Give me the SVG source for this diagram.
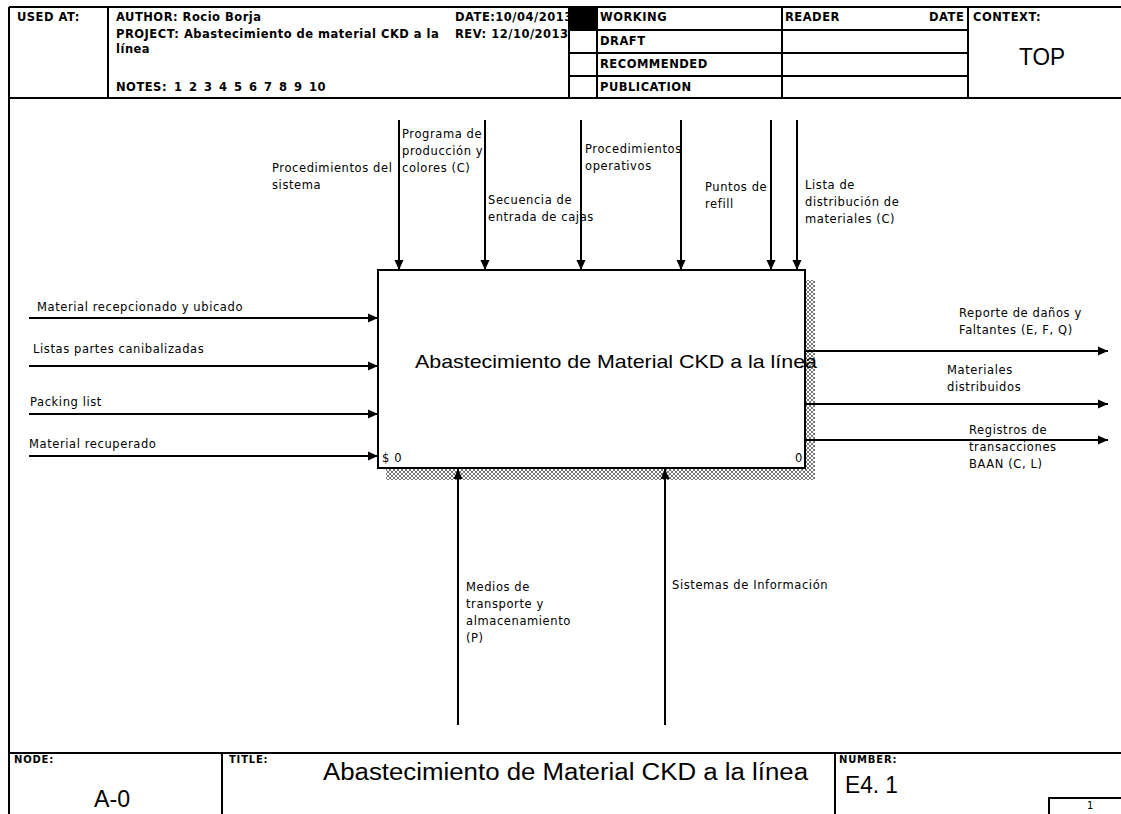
<svg xmlns="http://www.w3.org/2000/svg" width="1121" height="814" viewBox="0 0 1121 814">
  <style>
    .frame { stroke: #000; stroke-width: 2; fill: none; }
    .hdr { font-family: "DejaVu Sans", "Liberation Sans", sans-serif; font-size: 11.5px; font-weight: bold; fill: #000; letter-spacing: 0.5px; }
    .lbl { font-family: "DejaVu Sans", "Liberation Sans", sans-serif; font-size: 11.5px; fill: #000; letter-spacing: 0.6px; }
    .tiny { font-family: "DejaVu Sans", "Liberation Sans", sans-serif; font-size: 10px; font-weight: bold; fill: #000; letter-spacing: 0.8px; }
    .page { font-family: "DejaVu Sans", "Liberation Sans", sans-serif; font-size: 10px; fill: #000; }
    .big { font-family: "Liberation Sans", Arial, sans-serif; fill: #000; }
    .arrow { stroke: #000; stroke-width: 2; fill: none; marker-end: url(#head); }
  </style>
  <defs>
    <marker id="head" markerUnits="userSpaceOnUse" viewBox="0 0 10 10" refX="10" refY="5" markerWidth="10" markerHeight="10" orient="auto">
      <path d="M0,0.5 L10,5 L0,9.5 Z" fill="#000"/>
    </marker>
    <pattern id="hatch" width="4" height="4" patternUnits="userSpaceOnUse">
      <rect width="4" height="4" fill="#fff"/>
      <path d="M0,0 L4,4 M4,0 L0,4" stroke="#555" stroke-width="0.8"/>
    </pattern>
    <clipPath id="author-cell">
      <rect x="108" y="7" width="461" height="91"/>
    </clipPath>
  </defs>

  <rect width="1121" height="814" fill="#fff"/>

  <!-- sheet frame and header block -->
  <g id="header">
    <g clip-path="url(#author-cell)">
      <text class="hdr" x="116" y="21">AUTHOR:  Rocio Borja</text>
      <text class="hdr" x="116" y="38">PROJECT:  Abastecimiento de material CKD a la</text>
      <text class="hdr" x="116" y="53">línea</text>
      <text class="hdr" y="91"><tspan x="116">NOTES:</tspan><tspan x="174">1</tspan><tspan x="189">2</tspan><tspan x="204">3</tspan><tspan x="219">4</tspan><tspan x="234">5</tspan><tspan x="249">6</tspan><tspan x="264">7</tspan><tspan x="279">8</tspan><tspan x="294">9</tspan><tspan x="309">10</tspan></text>
      <text class="hdr" x="455" y="21">DATE:10/04/2013</text>
      <text class="hdr" x="455" y="38">REV:  12/10/2013</text>
    </g>
    <line class="frame" x1="9" y1="7" x2="1121" y2="7"/>
    <line class="frame" x1="9" y1="7" x2="9" y2="814"/>
    <line class="frame" x1="9" y1="98" x2="1121" y2="98"/>
    <line class="frame" x1="108" y1="7" x2="108" y2="98"/>
    <line class="frame" x1="569" y1="7" x2="569" y2="98"/>
    <line class="frame" x1="597" y1="7" x2="597" y2="98"/>
    <line class="frame" x1="782" y1="7" x2="782" y2="98"/>
    <line class="frame" x1="968" y1="7" x2="968" y2="98"/>
    <line class="frame" x1="569" y1="30" x2="968" y2="30"/>
    <line class="frame" x1="569" y1="53" x2="968" y2="53"/>
    <line class="frame" x1="569" y1="76" x2="968" y2="76"/>
    <rect x="569" y="7" width="28" height="23" fill="#000"/>

    <text class="hdr" x="17" y="21">USED AT:</text>
    <text class="hdr" x="600" y="21">WORKING</text>
    <text class="hdr" x="600" y="45">DRAFT</text>
    <text class="hdr" x="600" y="68">RECOMMENDED</text>
    <text class="hdr" x="600" y="91">PUBLICATION</text>
    <text class="hdr" x="785" y="21">READER</text>
    <text class="hdr" x="929" y="21">DATE</text>
    <text class="hdr" x="973" y="21">CONTEXT:</text>
    <text class="big" x="1019" y="65" font-size="24" textLength="46" lengthAdjust="spacingAndGlyphs">TOP</text>
  </g>

  <!-- activity box A0 -->
  <g id="box-a0">
    <rect x="386" y="468" width="429" height="12" fill="url(#hatch)"/>
    <rect x="805" y="280" width="10" height="200" fill="url(#hatch)"/>
    <rect x="378" y="270" width="427" height="198" fill="#fff" stroke="#000" stroke-width="2"/>
    <text class="big" x="415" y="368" font-size="19" textLength="402" lengthAdjust="spacingAndGlyphs">Abastecimiento de Material CKD a la línea</text>
    <text class="lbl" x="382" y="462">$ 0</text>
    <text class="lbl" x="795" y="462">0</text>
  </g>

  <!-- ICOM arrows -->
  <g id="connectors">
    <!-- controls -->
    <line class="arrow" x1="399" y1="120" x2="399" y2="270"/>
    <line class="arrow" x1="485" y1="120" x2="485" y2="270"/>
    <line class="arrow" x1="581" y1="120" x2="581" y2="270"/>
    <line class="arrow" x1="681" y1="120" x2="681" y2="270"/>
    <line class="arrow" x1="771" y1="120" x2="771" y2="270"/>
    <line class="arrow" x1="797" y1="120" x2="797" y2="270"/>
    <!-- inputs -->
    <line class="arrow" x1="29" y1="318" x2="378" y2="318"/>
    <line class="arrow" x1="29" y1="366" x2="378" y2="366"/>
    <line class="arrow" x1="29" y1="414" x2="378" y2="414"/>
    <line class="arrow" x1="29" y1="456" x2="378" y2="456"/>
    <!-- outputs -->
    <line class="arrow" x1="806" y1="351" x2="1108" y2="351"/>
    <line class="arrow" x1="806" y1="404" x2="1108" y2="404"/>
    <line class="arrow" x1="806" y1="440" x2="1108" y2="440"/>
    <!-- mechanisms -->
    <line class="arrow" x1="458" y1="725" x2="458" y2="469"/>
    <line class="arrow" x1="665" y1="725" x2="665" y2="469"/>
  </g>

  <!-- arrow labels -->
  <g id="labels">
    <text class="lbl" x="272" y="172">Procedimientos del</text>
    <text class="lbl" x="272" y="189">sistema</text>
    <text class="lbl" x="402" y="138">Programa de</text>
    <text class="lbl" x="402" y="155">producción y</text>
    <text class="lbl" x="402" y="172">colores (C)</text>
    <text class="lbl" x="488" y="204">Secuencia de</text>
    <text class="lbl" x="488" y="221">entrada de cajas</text>
    <text class="lbl" x="585" y="153">Procedimientos</text>
    <text class="lbl" x="585" y="170">operativos</text>
    <text class="lbl" x="705" y="191">Puntos de</text>
    <text class="lbl" x="705" y="208">refill</text>
    <text class="lbl" x="805" y="189">Lista de</text>
    <text class="lbl" x="805" y="206">distribución de</text>
    <text class="lbl" x="805" y="223">materiales (C)</text>

    <text class="lbl" x="37" y="311">Material recepcionado y ubicado</text>
    <text class="lbl" x="33" y="353">Listas partes canibalizadas</text>
    <text class="lbl" x="30" y="406">Packing list</text>
    <text class="lbl" x="29" y="448">Material recuperado</text>

    <text class="lbl" x="959" y="317">Reporte de daños y</text>
    <text class="lbl" x="959" y="334">Faltantes (E, F, Q)</text>
    <text class="lbl" x="947" y="374">Materiales</text>
    <text class="lbl" x="947" y="391">distribuidos</text>
    <text class="lbl" x="969" y="434">Registros de</text>
    <text class="lbl" x="969" y="451">transacciones</text>
    <text class="lbl" x="969" y="468">BAAN (C, L)</text>

    <text class="lbl" x="466" y="591">Medios de</text>
    <text class="lbl" x="466" y="608">transporte y</text>
    <text class="lbl" x="466" y="625">almacenamiento</text>
    <text class="lbl" x="466" y="642">(P)</text>
    <text class="lbl" x="672" y="589">Sistemas de Información</text>
  </g>

  <!-- footer block -->
  <g id="footer">
    <line class="frame" x1="9" y1="753" x2="1121" y2="753"/>
    <line class="frame" x1="222" y1="753" x2="222" y2="814"/>
    <line class="frame" x1="835" y1="753" x2="835" y2="814"/>
    <polyline class="frame" points="1049,814 1049,798 1121,798"/>
    <text class="tiny" x="14" y="763">NODE:</text>
    <text class="tiny" x="229" y="763">TITLE:</text>
    <text class="tiny" x="839" y="763">NUMBER:</text>
    <text class="big" x="94" y="807" font-size="24" textLength="36" lengthAdjust="spacingAndGlyphs">A-0</text>
    <text class="big" x="323" y="780" font-size="23" textLength="485" lengthAdjust="spacingAndGlyphs">Abastecimiento de Material CKD a la línea</text>
    <text class="big" x="845" y="793" font-size="24" textLength="53" lengthAdjust="spacingAndGlyphs">E4. 1</text>
    <text class="page" x="1087" y="809">1</text>
  </g>
</svg>
